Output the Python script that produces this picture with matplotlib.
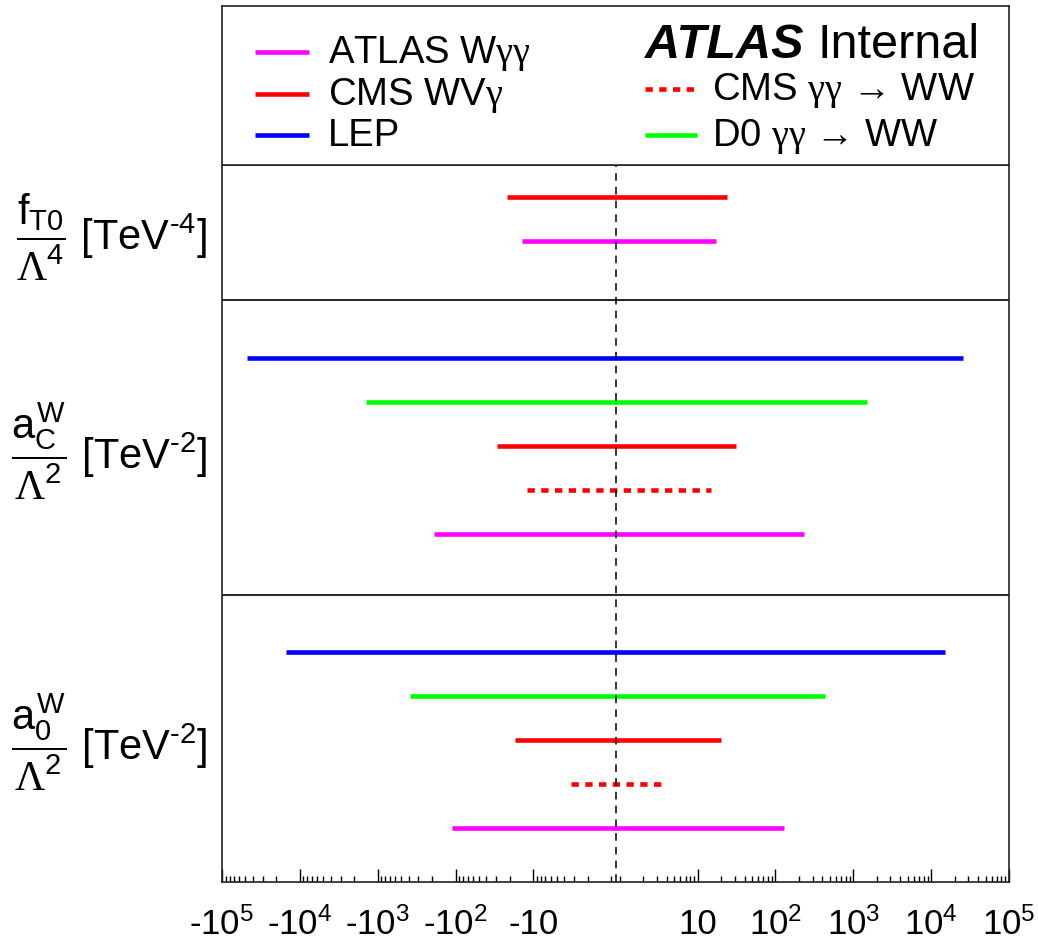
import matplotlib
matplotlib.use("Agg")
import matplotlib.pyplot as plt
from matplotlib.lines import Line2D
from matplotlib.transforms import blended_transform_factory

plt.rcParams['font.family'] = ['Liberation Sans', 'DejaVu Sans']
plt.rcParams['mathtext.fontset'] = 'custom'
plt.rcParams['mathtext.rm'] = 'Liberation Sans'
plt.rcParams['mathtext.it'] = 'Liberation Sans'
plt.rcParams['mathtext.sf'] = 'Liberation Sans'
plt.rcParams['mathtext.bf'] = 'Liberation Sans:bold'
plt.rcParams['mathtext.cal'] = 'Liberation Serif'

# ---- measurements (order within each panel: top to bottom) ----
experiments = ['LEP', 'D0_ggWW', 'CMS_WVg', 'CMS_ggWW', 'ATLAS_Wgg']
exp_labels = {
    'ATLAS_Wgg': r'ATLAS W$\mathcal{\gamma\gamma}$',
    'CMS_WVg': r'CMS WV$\mathcal{\gamma}$',
    'LEP': 'LEP',
    'CMS_ggWW': r'CMS $\mathcal{\gamma\gamma}$ → WW',
    'D0_ggWW': r'D0 $\mathcal{\gamma\gamma}$ → WW',
}
exp_colors = {'LEP': '#0000ff', 'D0_ggWW': '#00ff00', 'CMS_WVg': '#ff0000',
              'CMS_ggWW': '#ff0000', 'ATLAS_Wgg': '#ff00ff'}
dotted = (0, (1.6, 1.4))
exp_styles = {'LEP': '-', 'D0_ggWW': '-', 'CMS_WVg': '-',
              'CMS_ggWW': dotted, 'ATLAS_Wgg': '-'}

# limits [TeV^-4] / [TeV^-2]
fT0_limits = {'CMS_WVg': (-22, 24), 'ATLAS_Wgg': (-14, 17)}
aC_limits = {'LEP': (-48000, 26000), 'D0_ggWW': (-1400, 1500),
             'CMS_WVg': (-29, 31), 'CMS_ggWW': (-12, 15),
             'ATLAS_Wgg': (-190, 230)}
a0_limits = {'LEP': (-15000, 15000), 'D0_ggWW': (-380, 430),
             'CMS_WVg': (-17, 20), 'CMS_ggWW': (-3.3, 3.8),
             'ATLAS_Wgg': (-110, 130)}

panel_limits = [fT0_limits, aC_limits, a0_limits]
panel_labels = [
    r'$\dfrac{f_{T0}}{\mathcal{\Lambda}^{4}}$ [TeV$^{\text{-4}}$]',
    r'$\dfrac{a_{C}^{W}}{\mathcal{\Lambda}^{2}}$ [TeV$^{\text{-2}}$]',
    r'$\dfrac{a_{0}^{W}}{\mathcal{\Lambda}^{2}}$ [TeV$^{\text{-2}}$]',
]

major_ticks = [-1e5, -1e4, -1e3, -1e2, -10, 10, 1e2, 1e3, 1e4, 1e5]
major_labels = [r'-10$^{5}$', r'-10$^{4}$', r'-10$^{3}$', r'-10$^{2}$', '-10',
                '10', r'10$^{2}$', r'10$^{3}$', r'10$^{4}$', r'10$^{5}$']

# ---- layout (vertical units = row spacing) ----
panel_edges = [0.0, 3.07, 9.77, 16.3]
first_row = [0.73, 1.32, 1.30]

W, H = 1038, 943
fig = plt.figure(figsize=(W / 100, H / 100), dpi=100)
ax = fig.add_axes([222 / W, 61 / H, 787 / W, 717 / H])
leg = fig.add_axes([222 / W, (H - 165) / H, 787 / W, 159 / H])

ax.set_xscale('symlog', linthresh=1, linscale=0.05)
ax.set_xlim(-1e5, 1e5)
ax.set_ylim(panel_edges[-1], panel_edges[0])

lw = 3.3
for p, limits in enumerate(panel_limits):
    y = panel_edges[p] + first_row[p]
    for key in experiments:
        if key not in limits:
            continue
        lo, hi = limits[key]
        ax.plot([lo, hi], [y, y], color=exp_colors[key], lw=lw,
                ls=exp_styles[key], solid_capstyle='butt',
                dash_capstyle='butt')
        y += 1.0
    yc = 0.5 * (panel_edges[p] + panel_edges[p + 1]) + 0.1
    ax.text(-0.019, yc, panel_labels[p], fontsize=30, ha='right', va='center',
            transform=blended_transform_factory(ax.transAxes, ax.transData))

for e in panel_edges[1:-1]:
    ax.axhline(e, color='black', lw=1.2)
ax.axvline(0, color='black', lw=1.1, ls=(0, (5, 4)))

# x axis ticks
minor = []
for k in range(0, 5):
    for m in range(1, 10):
        v = m * 10 ** k
        if v not in (10, 100, 1000, 10000):
            minor += [v, -v]
ax.set_xticks(major_ticks)
ax.set_xticklabels(major_labels, fontsize=25)
ax.set_xticks(minor, minor=True)
ax.tick_params(axis='x', which='major', direction='in', length=9.5, width=1.0,
               pad=18.5, top=False)
ax.tick_params(axis='x', which='minor', direction='in', length=4, width=1.0,
               top=False)
ax.set_yticks([])
for s in ax.spines.values():
    s.set_linewidth(1.2)
    s.set_color('#222222')

# ---- legend box ----
leg.set_xticks([])
leg.set_yticks([])
for s in leg.spines.values():
    s.set_linewidth(1.2)
    s.set_color('#222222')
leg.set_xlim(0, 1)
leg.set_ylim(0, 1)

left_col = ['ATLAS_Wgg', 'CMS_WVg', 'LEP']
right_col = ['CMS_ggWW', 'D0_ggWW']
left_rows = [0.711, 0.447, 0.189]
right_rows = [0.478, 0.189]
base_off = 11 / 159


def legend_entry(key, x0, x1, xt, y):
    leg.add_line(Line2D([x0, x1], [y, y], color=exp_colors[key], lw=lw,
                        ls=exp_styles[key], solid_capstyle='butt',
                        dash_capstyle='butt'))
    leg.text(xt, y - base_off, exp_labels[key], fontsize=27.5, ha='left',
             va='baseline')


for key, y in zip(left_col, left_rows):
    legend_entry(key, 0.042, 0.111, 0.135, y)
for key, y in zip(right_col, right_rows):
    legend_entry(key, 0.537, 0.604, 0.622, y)

t1 = leg.text(0.537, 0.673, 'ATLAS', fontsize=35, fontweight='bold',
              fontstyle='italic', ha='left', va='baseline')
leg.annotate('Internal', xy=(1, 0), xycoords=t1, xytext=(10, 0),
             textcoords='offset points', fontsize=35, ha='left', va='bottom')

fig.savefig('out.png', dpi=100)
